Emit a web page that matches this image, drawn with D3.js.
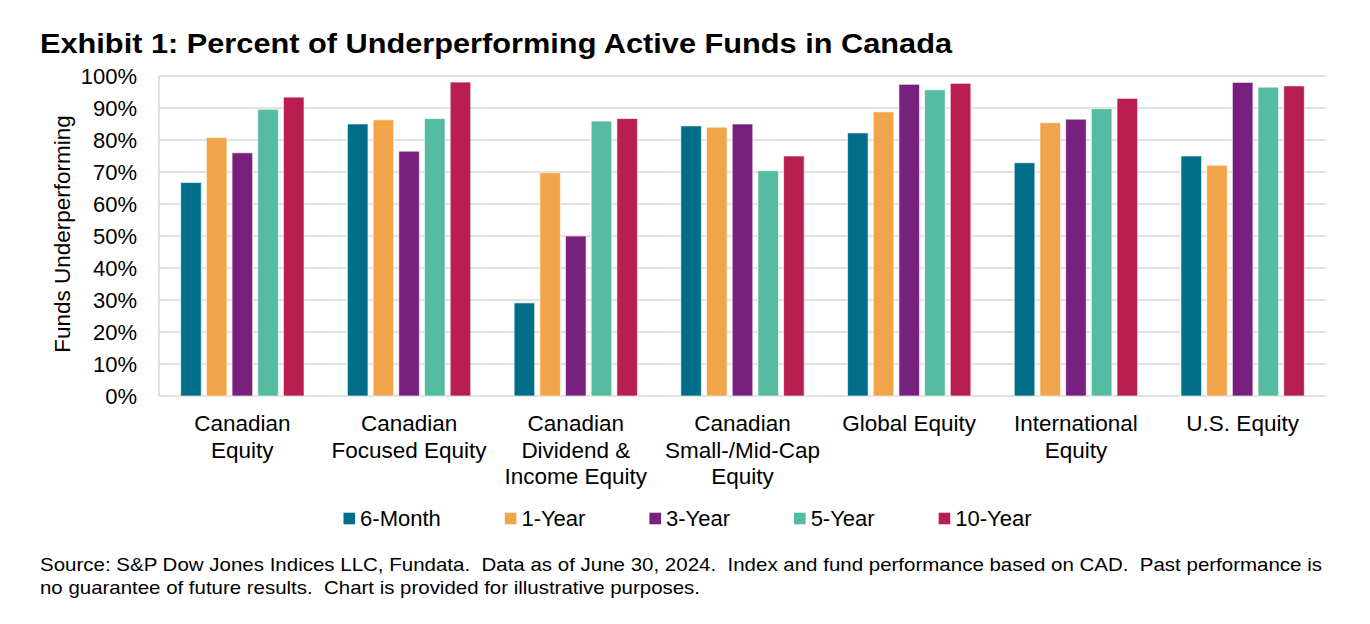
<!DOCTYPE html>
<html>
<head>
<meta charset="utf-8">
<script src="https://cdn.jsdelivr.net/npm/d3@7"></script>
<style>
  html, body { margin: 0; padding: 0; background: #fff; }
  svg { display: block; font-family: "Liberation Sans", Arial, sans-serif; }
  .pre { white-space: pre; }
</style>
</head>
<body>
<svg id="chart" width="1370" height="624"></svg>
<script>
const categories = ["Canadian Equity", "Canadian Focused Equity", "Canadian Dividend & Income Equity",
  "Canadian Small-/Mid-Cap Equity", "Global Equity", "International Equity", "U.S. Equity"];
const categoryLines = [["Canadian", "Equity"], ["Canadian", "Focused Equity"], ["Canadian", "Dividend &", "Income Equity"],
  ["Canadian", "Small-/Mid-Cap", "Equity"], ["Global Equity"], ["International", "Equity"], ["U.S. Equity"]];
const seriesNames = ["6-Month", "1-Year", "3-Year", "5-Year", "10-Year"];
const seriesColors = ["#006E88", "#F0A54B", "#78207E", "#55BBA1", "#B81F50"];
const sixMonth = [66.7, 85.0, 29.1, 84.4, 82.2, 72.9, 75.0];
const oneYear  = [80.8, 86.3, 69.8, 84.0, 88.8, 85.4, 72.1];
const threeYear = [76.0, 76.5, 50.0, 85.0, 97.4, 86.5, 98.0];
const fiveYear = [89.6, 86.7, 85.9, 70.4, 95.7, 89.8, 96.5];
const tenYear  = [93.4, 98.1, 86.7, 75.0, 97.7, 93.0, 96.9];
const yTicks = [0, 0.1, 0.2, 0.3, 0.4, 0.5, 0.6, 0.7, 0.8, 0.9, 1.0];
const titleText = "Exhibit 1: Percent of Underperforming Active Funds in Canada";
const yAxisTitle = "Funds Underperforming";
const sourceLines = [
  "Source: S&P Dow Jones Indices LLC, Fundata.  Data as of June 30, 2024.  Index and fund performance based on CAD.  Past performance is",
  "no guarantee of future results.  Chart is provided for illustrative purposes."
];

const seriesValues = [sixMonth, oneYear, threeYear, fiveYear, tenYear];
const data = categories.map((c, i) => ({
  category: c,
  values: seriesNames.map((s, j) => ({ series: s, value: seriesValues[j][i] / 100, color: seriesColors[j] }))
}));

const svg = d3.select("#chart");
const plot = { left: 159, right: 1326, top: 76, bottom: 396 };

const x0 = d3.scaleBand().domain(categories).range([plot.left, plot.right]).padding(0);
const x1 = d3.scaleBand().domain(seriesNames).range([0, x0.bandwidth()]).paddingInner(0.2).paddingOuter(0.845);
const y = d3.scaleLinear().domain([0, 1]).range([plot.bottom, plot.top]);

// Title
svg.append("text").attr("x", 40).attr("y", 53)
  .attr("font-size", 28).attr("font-weight", "bold").attr("fill", "#000")
  .attr("textLength", 912).attr("lengthAdjust", "spacingAndGlyphs")
  .text(titleText);

// Gridlines
svg.append("g").selectAll("line").data(yTicks).join("line")
  .attr("x1", plot.left).attr("x2", plot.right)
  .attr("y1", d => y(d)).attr("y2", d => y(d))
  .attr("stroke", "#D9D9D9").attr("stroke-width", 1.5);
svg.append("line").attr("x1", plot.left).attr("x2", plot.left)
  .attr("y1", plot.top).attr("y2", plot.bottom)
  .attr("stroke", "#D9D9D9").attr("stroke-width", 1.5);

// Y tick labels
svg.append("g").selectAll("text").data(yTicks).join("text")
  .attr("x", 137).attr("y", d => y(d)).attr("dy", "0.36em")
  .attr("text-anchor", "end").attr("font-size", 22).attr("fill", "#000")
  .text(d => d3.format(".0%")(d));

// Y axis title
svg.append("text")
  .attr("transform", `translate(70, ${(plot.top + plot.bottom) / 2 - 2}) rotate(-90)`)
  .attr("text-anchor", "middle").attr("font-size", 22.5).attr("fill", "#000")
  .text(yAxisTitle);

// Bars
const groups = svg.append("g").selectAll("g").data(data).join("g")
  .attr("transform", d => `translate(${x0(d.category)},0)`);
groups.selectAll("rect").data(d => d.values).join("rect")
  .attr("x", d => x1(d.series))
  .attr("width", x1.bandwidth())
  .attr("y", d => y(d.value))
  .attr("height", d => y(0) - y(d.value))
  .attr("fill", d => d.color)
  .attr("stroke", "#ffffff").attr("stroke-opacity", 0.6).attr("stroke-width", 1);

// Category labels
const catG = svg.append("g").selectAll("text").data(categories).join("text")
  .attr("x", d => x0(d) + x0.bandwidth() / 2)
  .attr("y", 431)
  .attr("text-anchor", "middle").attr("font-size", 22.5).attr("fill", "#000");
catG.each(function(d, i) {
  d3.select(this).selectAll("tspan").data(categoryLines[i]).join("tspan")
    .attr("x", x0(d) + x0.bandwidth() / 2)
    .attr("dy", (t, k) => k === 0 ? 0 : 26.5)
    .text(t => t);
});

// Legend
const legend = svg.append("g");
const sq = 11.6, gapText = 5, gapItem = 64;
let cursor = 0;
const items = legend.selectAll("g").data(seriesNames).join("g");
items.append("rect").attr("width", sq).attr("height", sq).attr("y", -sq / 2)
  .attr("fill", (d, i) => seriesColors[i]);
items.append("text").attr("x", sq + gapText).attr("y", 0).attr("dy", "0.36em")
  .attr("font-size", 22).attr("fill", "#000").text(d => d);
items.each(function() {
  const g = d3.select(this);
  const w = g.select("text").node().getComputedTextLength();
  g.attr("transform", `translate(${cursor},518.5)`);
  cursor += sq + gapText + w + gapItem;
});
const legendWidth = cursor - gapItem;
legend.attr("transform", `translate(${687.5 - legendWidth / 2},0)`);

// Source note
const sourceWidths = [1282, 660];
svg.append("g").selectAll("text").data(sourceLines).join("text")
  .attr("class", "pre")
  .attr("x", 40).attr("y", (d, i) => 571 + i * 23)
  .attr("font-size", 19).attr("fill", "#000")
  .attr("textLength", (d, i) => sourceWidths[i]).attr("lengthAdjust", "spacingAndGlyphs")
  .text(d => d);
</script>
</body>
</html>
